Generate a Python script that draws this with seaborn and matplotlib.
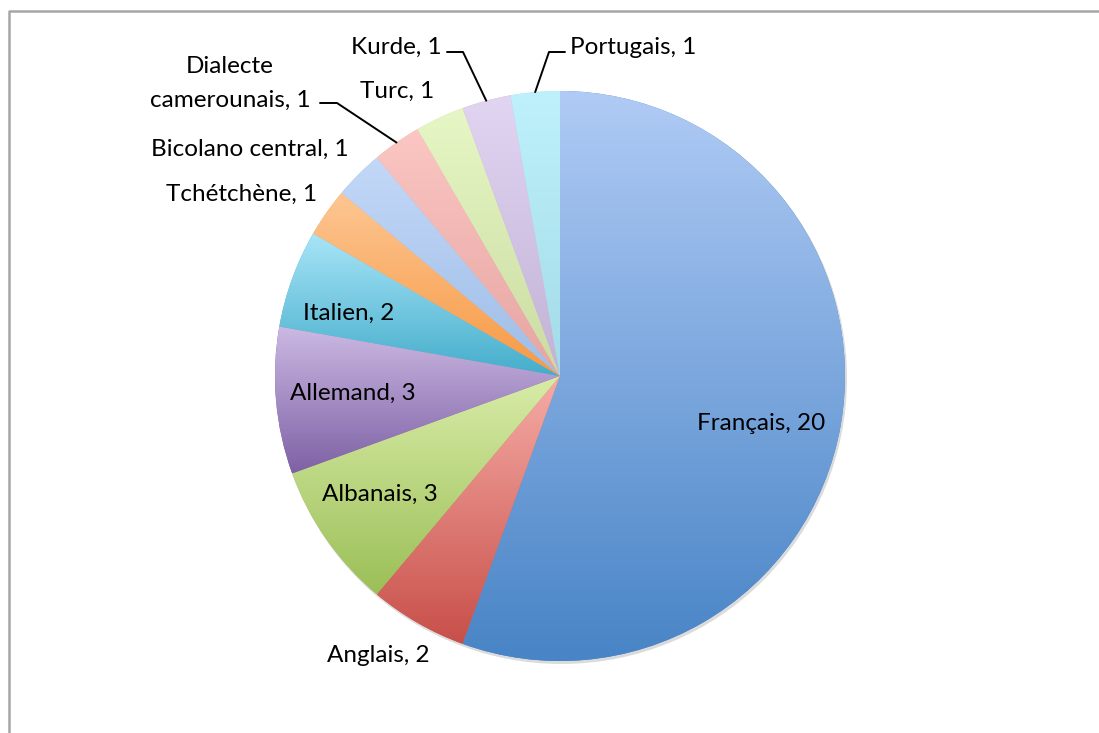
import numpy as np
import seaborn as sns
from matplotlib import pyplot as plt
from matplotlib.colors import LinearSegmentedColormap
from matplotlib.patches import Circle

# data, clockwise from 12 o'clock
languages = ["Français", "Anglais", "Albanais", "Allemand", "Italien", "Tchétchène",
             "Bicolano central", "Dialecte\ncamerounais", "Turc", "Kurde", "Portugais"]
speakers = [20, 2, 3, 3, 2, 1, 1, 1, 1, 1, 1]

# gradient colours per slice (top -> bottom of each slice)
top_colors = ["#b0cbf5", "#f6aca6", "#d9eca8", "#ccb9e3", "#a8e5f7", "#fdc693",
              "#c3d8f8", "#fbc6c3", "#e6f7c5", "#e1d5f2", "#bef1fb"]
bottom_colors = ["#4884c6", "#c84f49", "#9bbf57", "#7e61a5", "#44adcb", "#f79943",
                 "#9ebde6", "#e6a5a1", "#cbdba2", "#c2b2d5", "#a3dbe8"]

W, H = 1099, 733

# label placement (pixel coords, y from top)
label_pos = {
    "Français": (761, 423),
    "Anglais": (378, 655),
    "Albanais": (380, 494),
    "Allemand": (353, 393),
    "Italien": (349, 313),
    "Tchétchène": (242, 194),
    "Bicolano central": (250, 149),
    "Dialecte\ncamerounais": (230, 83),
    "Turc": (397, 91),
    "Kurde": (396, 47),
    "Portugais": (633, 47),
}
# leader lines: elbow point, end point
leaders = {
    "Dialecte\ncamerounais": ((337, 103), (320, 103)),
    "Kurde": ((463, 52), (447, 52)),
    "Portugais": ((549, 52), (565, 52)),
}

sns.set_theme(style="white")
plt.rcParams["font.family"] = ["Lato", "DejaVu Sans"]

fig = plt.figure(figsize=(W / 100, H / 100), dpi=100)
ax = fig.add_axes([0, 0, 1, 1])

cx, cy, r = 560, H - 376, 285

# soft shadow under the pie
ax.add_patch(Circle((cx + 1.5, cy - 2.5), r + 0.5, color="#9a9a9a", alpha=0.35, lw=0, zorder=0))

wedges, _ = ax.pie(
    speakers,
    center=(cx, cy),
    radius=r,
    startangle=90,
    counterclock=False,
    colors=sns.color_palette(bottom_colors),
    wedgeprops=dict(linewidth=0),
)

grad = np.linspace(0, 1, 256).reshape(-1, 1)
for w, top, bottom in zip(wedges, top_colors, bottom_colors):
    w.set_zorder(1)
    bb = w.get_path().get_extents()
    cmap = LinearSegmentedColormap.from_list("", [bottom, top])
    im = ax.imshow(grad, extent=[bb.x0, bb.x1, bb.y0, bb.y1], origin="lower",
                   cmap=cmap, aspect="auto", zorder=1.5, interpolation="bilinear")
    im.set_clip_path(w)

for w, lang, n in zip(wedges, languages, speakers):
    x, y = label_pos[lang]
    ax.text(x, H - y, f"{lang}, {n}", ha="center", va="center", fontsize=17.5,
            color="black", zorder=3, linespacing=1.75)
    if lang in leaders:
        mid = np.deg2rad((w.theta1 + w.theta2) / 2)
        ex, ey = cx + r * np.cos(mid), cy + r * np.sin(mid)
        (bx, by), (tx, ty) = leaders[lang]
        ax.plot([ex, bx, tx], [ey, H - by, H - ty], color="black", lw=1.4, zorder=3)

# chart area border (only top and left visible)
ax.plot([9, 9, W + 5], [-5, H - 11, H - 11], color="#a6a6a6", lw=1.8, zorder=4, clip_on=False)

ax.set_xlim(0, W)
ax.set_ylim(0, H)
ax.set_aspect("equal")
ax.axis("off")

plt.savefig("out.png", dpi=100)
plt.close()
